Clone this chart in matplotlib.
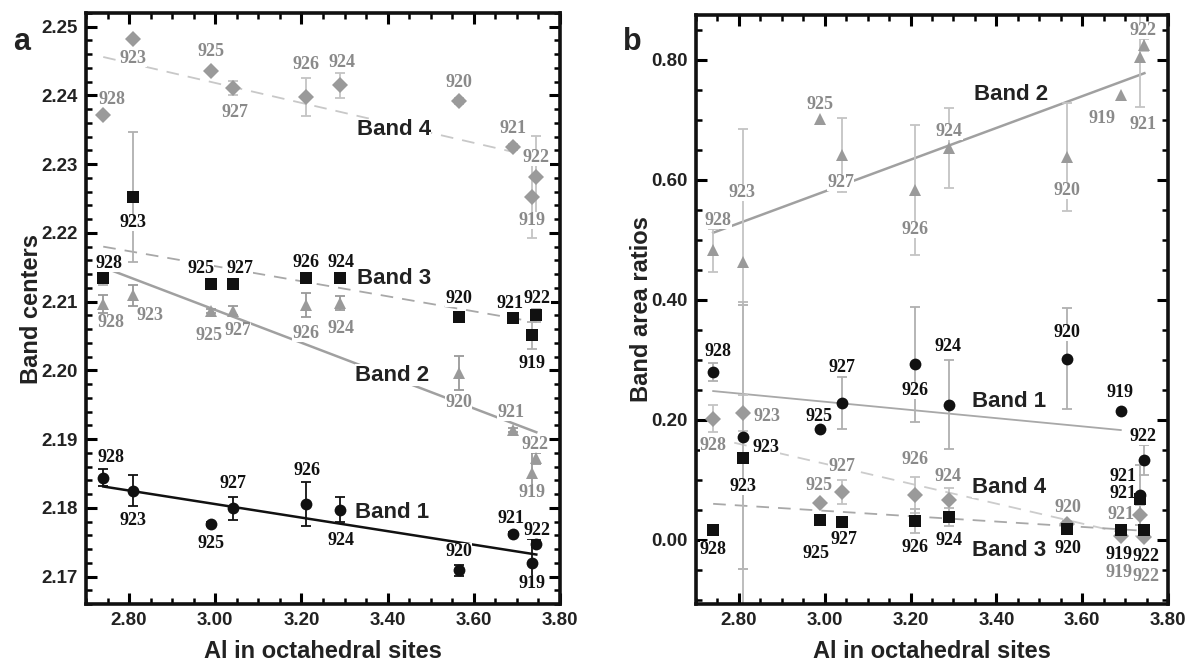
import numpy as np
import matplotlib
matplotlib.use('Agg')
import matplotlib.pyplot as plt
from matplotlib.ticker import MultipleLocator, FormatStrFormatter

# ---------------- data ----------------
samples = ['928', '923', '925', '927', '926', '924', '920', '921', '919', '922']
al_a = [2.74, 2.81, 2.99, 3.04, 3.21, 3.29, 3.565, 3.69, 3.735, 3.745]
al_b = [2.74, 2.81, 2.99, 3.04, 3.21, 3.29, 3.565, 3.735, 3.69, 3.745]

# panel a: band centers
a_band4 = [2.2372, 2.2482, 2.2436, 2.2411, 2.2398, 2.2415, 2.2392, 2.2325, 2.2252, 2.2281]
a_band4_err = [0, 0, 0, 0.001, 0.0028, 0.0018, 0.0005, 0.0005, 0.006, 0.006]
a_band3 = [2.2134, 2.2252, 2.2125, 2.2125, 2.2134, 2.2134, 2.2077, 2.2076, 2.2051, 2.2080]
a_band3_err = [0.001, 0.0095, 0, 0, 0, 0, 0, 0, 0.002, 0.001]
a_band2 = [2.2096, 2.2109, 2.2087, 2.2087, 2.2095, 2.2098, 2.1996, 2.1913, 2.1851, 2.1872]
a_band2_err = [0.0013, 0.0015, 0.0003, 0.0007, 0.0018, 0.001, 0.0025, 0.0003, 0.003, 0.0008]
a_band1 = [2.1844, 2.1825, 2.1777, 2.1799, 2.1806, 2.1797, 2.1709, 2.1762, 2.1719, 2.1748]
a_band1_err = [0.0013, 0.0022, 0.0003, 0.0017, 0.0032, 0.0018, 0.0008, 0.0003, 0.0035, 0.0005]

fit_a4_x, fit_a4_y = [2.74, 3.69], [2.2456, 2.2318]
fit_a3_x, fit_a3_y = [2.74, 3.745], [2.2180, 2.2070]
fit_a2_x, fit_a2_y = [2.74, 3.745], [2.2150, 2.1910]
fit_a1_x, fit_a1_y = [2.74, 3.745], [2.1831, 2.1732]

# panel b: band area ratios
b_band2 = [0.483, 0.463, 0.702, 0.642, 0.583, 0.653, 0.638, 0.805, 0.742, 0.825]
b_band2_err = [0.036, 0.222, 0, 0.062, 0.108, 0.067, 0.09, 0.083, 0, 0.01]
b_band1 = [0.28, 0.172, 0.185, 0.228, 0.293, 0.225, 0.302, 0.075, 0.215, 0.133]
b_band1_err = [0.015, 0.22, 0, 0.044, 0.096, 0.074, 0.084, 0.05, 0, 0.025]
b_band4 = [0.202, 0.212, 0.062, 0.08, 0.075, 0.067, 0.027, 0.042, 0.007, 0.005]
b_band4_err = [0.022, 0.03, 0, 0.02, 0.03, 0.02, 0.005, 0, 0, 0]
b_band3 = [0.017, 0.137, 0.033, 0.03, 0.032, 0.038, 0.018, 0.068, 0.017, 0.017]
b_band3_err = [0, 0.26, 0, 0, 0.02, 0.015, 0.005, 0.01, 0, 0]

fit_b2_x, fit_b2_y = [2.74, 3.745], [0.512, 0.778]
fit_b1_x, fit_b1_y = [2.74, 3.69], [0.248, 0.183]
fit_b4_x, fit_b4_y = [2.74, 3.745], [0.170, 0.003]
fit_b3_x, fit_b3_y = [2.74, 3.745], [0.060, 0.015]

# label offsets in pixels (dx right, dy down), order as samples
off_a4 = [(9, -15), (0, 19), (0, -19), (2, 25), (0, -32), (2, -23), (0, -18), (0, -19), (0, 23), (0, -20)]
off_a3 = [(6, -15), (0, 25), (-10, -16), (7, -16), (0, -16), (1, -16), (0, -19), (-3, -15), (0, 28), (1, -17)]
off_a2 = [(8, 18), (17, 20), (-2, 25), (5, 20), (0, 28), (1, 25), (0, 29), (-2, -18), (0, 20), (-1, -14)]
off_a1 = [(8, -20), (0, 30), (0, 20), (0, -25), (1, -33), (1, 31), (0, -19), (-2, -15), (0, 20), (1, -13)]

off_b2 = [(5, -30), (-1, -70), (0, -14), (-1, 28), (0, 39), (0, -17), (0, 33), (3, 68), (-19, 24), (-1, -14)]
off_b1 = [(5, -20), (23, 11), (-1, -12), (0, -36), (0, 26), (-1, -58), (0, -26), (-17, -18), (-1, -18), (-1, -24)]
off_b4 = [(0, 27), (24, 4), (-1, -17), (0, -25), (0, -35), (-1, -23), (1, -16), (-19, 0), (-2, 37), (2, 40)]
off_b3 = [(0, 20), (0, 29), (-4, 33), (2, 18), (0, 27), (0, 23), (1, 19), (-17, -6), (-2, 25), (2, 27)]

GRAY = '#9a9a9a'
GRAY_TXT = '#8a8a8a'
LIGHT = '#c4c4c4'
BLACK = '#111111'
SANS = 'Liberation Sans'
SERIF = 'Liberation Serif'

fig = plt.figure(figsize=(11.9, 6.62), dpi=100)
axa = fig.add_axes([86 / 1190, 58 / 662, 474 / 1190, 591 / 662])
axb = fig.add_axes([696 / 1190, 58 / 662, 472 / 1190, 589 / 662])


def series(ax, x, y, err, marker, color, ms, ecolor, offs, lcolor):
    x = np.asarray(x)
    y = np.asarray(y)
    err = np.asarray(err)
    m = err > 0
    ax.errorbar(x[m], y[m], yerr=err[m], fmt='none', ecolor=ecolor,
                elinewidth=1.3, capsize=3.5, capthick=1.3, zorder=1)
    ax.plot(x, y, linestyle='none', marker=marker, color=color, ms=ms,
            markeredgewidth=0, zorder=5)
    for xi, yi, s, (dx, dy) in zip(x, y, samples, offs):
        ax.annotate(s, (xi, yi), xytext=(dx * 0.72, -dy * 0.72),
                    textcoords='offset points', ha='center', va='center',
                    fontsize=13, fontweight='bold', family=SERIF, color=lcolor,
                    bbox=dict(facecolor='white', edgecolor='none', pad=0.05),
                    zorder=3)


def band_text(ax, x, y, s):
    ax.text(x, y, s, fontsize=16, fontweight='bold', family=SANS, color='#222222',
            ha='center', va='center', zorder=3,
            bbox=dict(facecolor='white', edgecolor='none', pad=0.1))


def style(ax, ylim, ymaj, ymin):
    ax.set_xlim(2.70, 3.80)
    ax.set_ylim(*ylim)
    ax.xaxis.set_major_locator(MultipleLocator(0.2))
    ax.xaxis.set_minor_locator(MultipleLocator(0.05))
    ax.yaxis.set_major_locator(MultipleLocator(ymaj))
    ax.yaxis.set_minor_locator(MultipleLocator(ymin))
    ax.xaxis.set_major_formatter(FormatStrFormatter('%.2f'))
    ax.yaxis.set_major_formatter(FormatStrFormatter('%.2f'))
    ax.tick_params(which='both', direction='in', top=True, right=True)
    ax.tick_params(which='major', length=8, width=2.2, labelsize=13.5, pad=6)
    ax.tick_params(which='minor', length=4.5, width=1.8)
    for lab in ax.get_xticklabels() + ax.get_yticklabels():
        lab.set_fontweight('bold')
        lab.set_family(SANS)
        lab.set_color('#222222')
    for sp in ax.spines.values():
        sp.set_linewidth(2.6)
        sp.set_color('#111111')
    ax.set_xlabel('Al in octahedral sites', fontsize=17, fontweight='bold',
                  family=SANS, labelpad=8, color='#222222')


# ---------- panel a ----------
axa.plot(fit_a4_x, fit_a4_y, color='#c8c8c8', lw=1.3, dashes=(7, 5), zorder=0.5)
axa.plot(fit_a3_x, fit_a3_y, color='#a8a8a8', lw=1.3, dashes=(7, 5), zorder=0.5)
axa.plot(fit_a2_x, fit_a2_y, color='#a0a0a0', lw=1.8, zorder=0.5)
axa.plot(fit_a1_x, fit_a1_y, color=BLACK, lw=1.8, zorder=0.5)

series(axa, al_a, a_band4, a_band4_err, 'D', GRAY, 8, LIGHT, off_a4, GRAY_TXT)
series(axa, al_a, a_band3, a_band3_err, 's', BLACK, 8, '#b0b0b0', off_a3, BLACK)
series(axa, al_a, a_band2, a_band2_err, '^', GRAY, 8, GRAY, off_a2, GRAY_TXT)
series(axa, al_a, a_band1, a_band1_err, 'o', BLACK, 8.5, BLACK, off_a1, BLACK)

band_text(axa, 3.415, 2.2350, 'Band 4')
band_text(axa, 3.415, 2.2134, 'Band 3')
band_text(axa, 3.41, 2.1993, 'Band 2')
band_text(axa, 3.41, 2.1793, 'Band 1')

style(axa, (2.166, 2.252), 0.01, 0.002)
axa.set_ylabel('Band centers', fontsize=17, fontweight='bold', family=SANS,
               labelpad=-1, color='#222222')
fig.text(22 / 1190, 1 - 42 / 662, 'a', fontsize=22, fontweight='bold', family=SANS,
         ha='center', va='center', color='#222222')

# ---------- panel b ----------
axb.plot(fit_b2_x, fit_b2_y, color='#a0a0a0', lw=1.8, zorder=0.5)
axb.plot(fit_b1_x, fit_b1_y, color='#a8a8a8', lw=1.3, zorder=0.5)
axb.plot(fit_b4_x, fit_b4_y, color='#cccccc', lw=1.3, dashes=(7, 5), zorder=0.5)
axb.plot(fit_b3_x, fit_b3_y, color='#a8a8a8', lw=1.3, dashes=(7, 5), zorder=0.5)

series(axb, al_b, b_band2, b_band2_err, '^', GRAY, 8, LIGHT, off_b2, GRAY_TXT)
series(axb, al_b, b_band1, b_band1_err, 'o', BLACK, 8.5, '#b0b0b0', off_b1, BLACK)
series(axb, al_b, b_band4, b_band4_err, 'D', GRAY, 8, LIGHT, off_b4, GRAY_TXT)
series(axb, al_b, b_band3, b_band3_err, 's', BLACK, 8, '#b8b8b8', off_b3, BLACK)

band_text(axb, 3.435, 0.742, 'Band 2')
band_text(axb, 3.43, 0.230, 'Band 1')
band_text(axb, 3.43, 0.087, 'Band 4')
band_text(axb, 3.43, -0.017, 'Band 3')

style(axb, (-0.107, 0.875), 0.2, 0.05)
axb.set_ylabel('Band area ratios', fontsize=17, fontweight='bold', family=SANS,
               labelpad=-1, color='#222222')
fig.text(632 / 1190, 1 - 42 / 662, 'b', fontsize=22, fontweight='bold', family=SANS,
         ha='center', va='center', color='#222222')

fig.savefig('out.png', dpi=100)
